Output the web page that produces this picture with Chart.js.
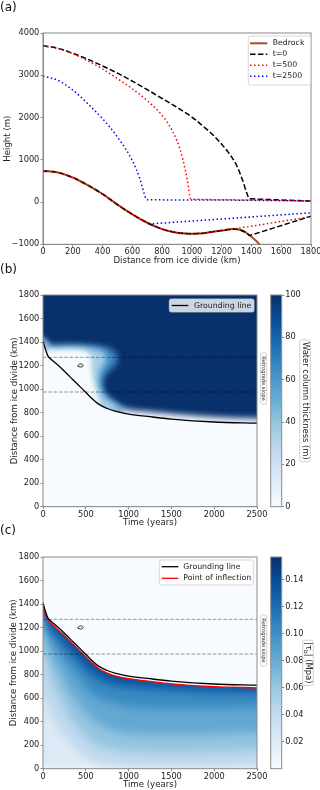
<!DOCTYPE html>
<html lang="en">
<head>
<meta charset="UTF-8">
<meta name="viewport" content="width=device-width, initial-scale=1.0">
<title>Ice sheet retreat over a retrograde bed</title>
<script src="https://cdn.jsdelivr.net/npm/chart.js"></script>
<style>
    body { margin: 0; background: #fff; font-family: "DejaVu Sans", sans-serif; }
    .fig { position: relative; width: 320px; height: 790px; overflow: hidden; }
    .fig canvas { position: absolute; left: 0; }
    .tag { position: absolute; left: 0; font-size: 12px; line-height: 14px; color: #111; }
</style>
</head>
<body>
<div class="fig">
    <canvas id="profiles" width="320" height="268" style="top:0"></canvas>
    <canvas id="water" width="320" height="268" style="top:262px"></canvas>
    <canvas id="waterBar" width="58" height="268" style="top:262px;left:262px"></canvas>
    <canvas id="stress" width="320" height="268" style="top:522px"></canvas>
    <canvas id="stressBar" width="58" height="268" style="top:522px;left:262px"></canvas>
    <div class="tag" style="top:0">(a)</div>
    <div class="tag" style="top:262px">(b)</div>
    <div class="tag" style="top:523px">(c)</div>
</div>

<script>
// ---- (a) profiles along the flow line: distance (km) -> height (m) ----
const bedX = [0,100,200,300,400,500,600,700,800,850,900,950,1000,1050,1100,1200,1280,1320,1360,1400,1440,1480];
const bedH = [735,700,580,400,190,-60,-290,-490,-640,-690,-725,-743,-748,-745,-725,-675,-636,-655,-715,-820,-950,-1080];

const surf0X = [0,100,200,300,400,500,600,700,800,900,1000,1100,1150,1200,1250,1300,1340,1370,1385,1400,1600,1800];
const surf0H = [3700,3640,3520,3380,3220,3050,2860,2660,2450,2240,2010,1720,1560,1370,1150,870,520,200,85,75,50,25];
const base0X = [0,100,200,300,400,500,600,700,800,850,900,950,1000,1050,1100,1200,1280,1320,1360,1390,1400,1800];
const base0H = [735,700,580,400,190,-60,-290,-490,-640,-690,-725,-743,-748,-745,-725,-675,-636,-655,-715,-790,-779,-335];

const surf500X = [0,100,200,300,400,500,600,700,800,850,900,940,970,990,1000,1400,1800];
const surf500H = [3690,3630,3510,3340,3150,2920,2680,2400,2050,1800,1450,1000,500,90,70,50,25];
const base500X = [0,100,200,300,400,500,600,700,800,850,900,950,1000,1050,1100,1200,1280,1800];
const base500H = [735,700,580,400,190,-60,-290,-490,-640,-690,-725,-743,-748,-745,-725,-675,-636,-345];

const surf2500X = [0,100,200,300,400,500,600,650,690,700,1000,1800];
const surf2500H = [2980,2880,2650,2330,1970,1540,980,560,90,55,50,25];
const base2500X = [710,1800];
const base2500H = [-520,-255];

// ---- (b)/(c) time (years) -> distance from ice divide (km) ----
const glT = [0,10,25,60,100,160,250,350,450,550,650,750,850,1000,1250,1500,2000,2500];
const glD = [1415,1385,1345,1278,1250,1213,1152,1080,1008,935,872,835,810,788,765,745,720,710];
const inflD = [1398,1365,1322,1262,1232,1193,1132,1060,988,915,852,813,788,766,742,722,697,688];

const slopeEdges = [975, 1270];
const timeSpan = [0, 2500];

// small closed contour near t=430
const blipT = [405,422,450,468,462,435,408,405];
const blipD = [1197,1210,1213,1204,1192,1188,1194,1197];

// water column: top of the thin layer just behind the grounding line
const sheetT = [0,100,250,450,600,700,800,900,1000,1250,1500,2000,2500];
const sheetD = [1415,1250,1152,1008,920,880,860,845,825,808,790,762,750];
// drained pocket, outer / middle / inner contours (run from bottom-left round to the right)
const pocketOuterT = [-50,-50,4,43,120,237,432,627,763,850,870,840,780,720,700,705,745,810,880,1000];
const pocketOuterD = [1000,1440,1428,1395,1378,1378,1378,1368,1350,1310,1250,1200,1160,1110,1060,1000,950,905,875,650];
const pocketMidT = [-50,-50,4,43,120,237,432,627,700,735,740,710,670,655,660,700,770,850,1000];
const pocketMidD = [1000,1430,1417,1380,1352,1358,1358,1340,1318,1285,1247,1200,1150,1090,1020,960,905,865,650];
const pocketCoreT = [0,30,60,150,300,450,530,560,565,580,600,620,700];
const pocketCoreD = [1000,1300,1330,1335,1337,1330,1310,1260,1180,1100,1040,990,750];

// basal shear stress contours (km)
const bandT = [0,100,200,300,400,500,600,800,1000,1500,2000,2500];
const tau02 = [0,0,0,0,0,0,0,0,0,0,0,0];
const tau04 = [600,450,330,240,160,100,60,30,20,15,15,25];
const tau06 = [1000,760,610,460,360,280,220,170,150,140,145,160];
const tau08 = [1180,950,820,670,570,480,410,330,300,290,295,310];
const tau10 = [1300,1090,980,870,780,690,620,560,530,510,510,520];
const tau12 = [1360,1170,1090,990,920,840,775,715,690,665,650,645];
const tau14 = [1385,1210,1140,1050,975,895,830,755,730,705,688,680];

const BLUES = ['#f7fbff','#deebf7','#c6dbef','#9ecae1','#6baed6','#4292c6','#2171b5','#08519c','#08306b'];
const TAU_COLORS = ['#dceaf6','#bfd8ed','#93c4df','#63a8d3','#3a8ac2','#1c68ae','#08519c'];
const PALE = '#f7fbff';
const NAVY = '#08306b';
const FRAME = '#8a8a8a';
const INK = '#222';

Chart.defaults.font.family = '"DejaVu Sans", sans-serif';
Chart.defaults.font.size = 8.2;
Chart.defaults.color = INK;

function pts(xs, ys) { return xs.map((x, i) => ({x: x, y: ys[i]})); }
// repeat the end values just past the axes so the soft edge stays out of view
function padEnds(xs, ys) {
    const p = pts(xs, ys);
    return [{x: xs[0] - 200, y: ys[0]}].concat(p, [{x: xs[xs.length - 1] + 200, y: ys[ys.length - 1]}]);
}
function hline(y) { return timeSpan.map(t => ({x: t, y: y})); }
function fmtTick(v) { return v < 0 ? '\u2212' + Math.abs(v) : String(v); }

function roundRect(ctx, x, y, w, h, r) {
    ctx.beginPath();
    ctx.moveTo(x + r, y);
    ctx.lineTo(x + w - r, y); ctx.quadraticCurveTo(x + w, y, x + w, y + r);
    ctx.lineTo(x + w, y + h - r); ctx.quadraticCurveTo(x + w, y + h, x + w - r, y + h);
    ctx.lineTo(x + r, y + h); ctx.quadraticCurveTo(x, y + h, x, y + h - r);
    ctx.lineTo(x, y + r); ctx.quadraticCurveTo(x, y, x + r, y);
    ctx.closePath();
}

function xAxis(min, max, step, title, height, gap) {
    return {
        type: 'linear', min: min, max: max,
        ticks: { stepSize: step, padding: 0.5, maxRotation: 0, autoSkip: false, color: INK, callback: fmtTick },
        grid: { drawOnChartArea: false, tickLength: 2.5, color: FRAME },
        border: { color: FRAME },
        title: { display: true, text: title, color: INK, font: { size: 8.6 }, padding: { top: 0, bottom: gap } },
        afterFit(s) { s.height = height; s.paddingLeft = 0; s.paddingRight = 0; }
    };
}
function yAxis(min, max, step, title, gap) {
    return {
        type: 'linear', min: min, max: max,
        ticks: { stepSize: step, padding: 1.2, color: INK, callback: fmtTick },
        grid: { drawOnChartArea: false, tickLength: 2.5, color: FRAME },
        border: { color: FRAME },
        title: { display: true, text: title, color: INK, font: { size: 8.6 }, padding: { top: gap, bottom: 0 } },
        afterFit(s) { s.width = 43; s.paddingTop = 0; s.paddingBottom = 0; }
    };
}

const frame = {
    id: 'frame',
    afterDraw(chart) {
        const {ctx, chartArea: a} = chart;
        ctx.save();
        ctx.strokeStyle = FRAME; ctx.lineWidth = 1;
        ctx.strokeRect(a.left, a.top, a.right - a.left, a.bottom - a.top);
        ctx.restore();
    }
};

function boxLegend(o) {
    return {
        id: 'boxLegend',
        afterDraw(chart) {
            const {ctx, chartArea: a} = chart;
            const items = chart.data.datasets.filter(d => d.inLegend);
            const x0 = a.right - o.right - o.w, y0 = a.top + o.top;
            ctx.save();
            roundRect(ctx, x0, y0, o.w, o.h, 2);
            ctx.fillStyle = 'rgba(255,255,255,0.8)'; ctx.fill();
            ctx.strokeStyle = '#cfcfcf'; ctx.lineWidth = 0.8; ctx.stroke();
            ctx.font = '7.8px "DejaVu Sans"'; ctx.textBaseline = 'middle'; ctx.textAlign = 'left';
            items.forEach((d, i) => {
                const y = y0 + o.first + i * o.step;
                ctx.beginPath();
                ctx.setLineDash(d.borderDash || []);
                ctx.strokeStyle = d.borderColor; ctx.lineWidth = d.borderWidth;
                ctx.moveTo(x0 + o.lx0, y); ctx.lineTo(x0 + o.lx1, y); ctx.stroke();
                ctx.setLineDash([]);
                ctx.fillStyle = INK;
                ctx.fillText(d.label, x0 + o.tx, y);
            });
            ctx.restore();
        }
    };
}

function drawVertical(ctx, cx, cy, parts, size, h, pad) {
    ctx.save();
    ctx.translate(cx, cy);
    ctx.rotate(Math.PI / 2);
    const font = s => s.toFixed(2) + 'px "DejaVu Sans"';
    let total = 0;
    const widths = parts.map(p => { ctx.font = font(p.sub ? size * 0.7 : size); const w = ctx.measureText(p.t).width; total += w; return w; });
    roundRect(ctx, -total / 2 - pad, -h / 2, total + 2 * pad, h, 2);
    ctx.fillStyle = '#fff'; ctx.fill();
    ctx.strokeStyle = '#c4c4c4'; ctx.lineWidth = 0.8; ctx.stroke();
    ctx.fillStyle = INK; ctx.textBaseline = 'middle'; ctx.textAlign = 'left';
    let x = -total / 2;
    parts.forEach((p, i) => {
        ctx.font = font(p.sub ? size * 0.7 : size);
        ctx.fillText(p.t, x, p.sub ? size * 0.28 : 0);
        x += widths[i];
    });
    ctx.restore();
}

function sideLabels(items) {
    return {
        id: 'sideLabels',
        afterDraw(chart) {
            const a = chart.chartArea;
            items.forEach(it => {
                const cy = it.value !== undefined ? chart.scales.y.getPixelForValue(it.value) : (a.top + a.bottom) / 2;
                drawVertical(chart.ctx, a.right + it.dx, cy, it.parts, it.size, it.h, it.pad);
            });
        }
    };
}

// plot background plus a blur on the contour fills so their edges grade like the field
function setBlur(chart, idx) {
    const ds = idx === undefined ? null : chart.data.datasets[idx];
    chart.ctx.filter = ds && ds.blur ? 'blur(' + ds.blur + 'px)' : 'none';
}
function softFill(bg) {
    return {
        id: 'softFill',
        beforeDatasetsDraw(chart) {
            const {ctx, chartArea: a} = chart;
            ctx.save();
            ctx.fillStyle = bg;
            ctx.fillRect(a.left, a.top, a.right - a.left, a.bottom - a.top);
            ctx.restore();
            chart.$drawSeq = chart.getSortedVisibleDatasetMetas().map(m => m.index).reverse();
            setBlur(chart, chart.$drawSeq[0]);
        },
        afterDatasetDraw(chart, args) {
            const seq = chart.$drawSeq;
            setBlur(chart, seq[seq.indexOf(args.index) + 1]);
        },
        afterDatasetsDraw(chart) { chart.ctx.filter = 'none'; }
    };
}

const common = {
    responsive: false, animation: false, devicePixelRatio: 1, events: [],
    elements: { point: { radius: 0 } },
    plugins: { legend: { display: false }, tooltip: { enabled: false } }
};
const CLEAR = 'rgba(0,0,0,0)';

// ---------- (a) ----------
new Chart(document.getElementById('profiles'), {
    type: 'line',
    data: { datasets: [
        { label: 'Bedrock', inLegend: true, data: pts(bedX, bedH), borderColor: '#a0522d', borderWidth: 2, cubicInterpolationMode: 'monotone', order: 4 },
        { label: 't=0', inLegend: true, data: pts(surf0X, surf0H), borderColor: '#000000', borderWidth: 1.5, borderDash: [5.5, 2.4], cubicInterpolationMode: 'monotone', order: 3 },
        { label: 't=500', inLegend: true, data: pts(surf500X, surf500H), borderColor: '#ff0000', borderWidth: 1.5, borderDash: [1.5, 2.5], cubicInterpolationMode: 'monotone', order: 2 },
        { label: 't=2500', inLegend: true, data: pts(surf2500X, surf2500H), borderColor: '#0000ff', borderWidth: 1.5, borderDash: [1.5, 2.5], cubicInterpolationMode: 'monotone', order: 1 },
        { label: 'base t=0', data: pts(base0X, base0H), borderColor: '#000000', borderWidth: 1.5, borderDash: [5.5, 2.4], cubicInterpolationMode: 'monotone', order: 3 },
        { label: 'base t=500', data: pts(base500X, base500H), borderColor: '#ff0000', borderWidth: 1.5, borderDash: [1.5, 2.5], cubicInterpolationMode: 'monotone', order: 2 },
        { label: 'base t=2500', data: pts(base2500X, base2500H), borderColor: '#0000ff', borderWidth: 1.5, borderDash: [1.5, 2.5], order: 1 }
    ]},
    options: Object.assign({}, common, {
        layout: { padding: { left: 0, right: 9, top: 33, bottom: 0 } },
        scales: {
            x: xAxis(0, 1800, 200, 'Distance from ice divide (km)', 23.7, 1.7),
            y: yAxis(-1000, 4000, 1000, 'Height (m)', 2.3)
        }
    }),
    plugins: [frame, boxLegend({ w: 62.4, h: 49, right: 0.3, top: 3, first: 7.3, step: 11, lx0: 1.7, lx1: 19, tx: 24.4 })]
});

// ---------- (b) ----------
new Chart(document.getElementById('water'), {
    type: 'line',
    data: { datasets: [
        { label: 'Grounding line', inLegend: true, data: pts(glT, glD), borderColor: '#000000', borderWidth: 1.3, fill: 'start', backgroundColor: PALE, cubicInterpolationMode: 'monotone', order: 2 },
        { data: pts(blipT, blipD), borderColor: '#000000', borderWidth: 0.8, tension: 0.5, order: 0 },
        { data: hline(slopeEdges[0]), borderColor: 'rgba(0,0,0,0.4)', borderWidth: 1, borderDash: [3.7, 1.6], order: 1 },
        { data: hline(slopeEdges[1]), borderColor: 'rgba(0,0,0,0.4)', borderWidth: 1, borderDash: [3.7, 1.6], order: 1 },
        { data: pts(pocketCoreT, pocketCoreD), fill: 'shape', backgroundColor: PALE, borderColor: CLEAR, borderWidth: 0, tension: 0.3, blur: 2.5, order: 7 },
        { data: pts(pocketMidT, pocketMidD), fill: 'shape', backgroundColor: '#a8cfe5', borderColor: CLEAR, borderWidth: 0, tension: 0.3, blur: 3, order: 8 },
        { data: pts(pocketOuterT, pocketOuterD), fill: 'shape', backgroundColor: '#3f8ac4', borderColor: CLEAR, borderWidth: 0, tension: 0.3, blur: 3, order: 9 },
        { data: padEnds(sheetT, sheetD), fill: 'start', backgroundColor: PALE, borderColor: CLEAR, borderWidth: 0, cubicInterpolationMode: 'monotone', blur: 3, order: 10 }
    ]},
    options: Object.assign({}, common, {
        layout: { padding: { left: 0, right: 63, top: 33, bottom: 0 } },
        scales: {
            x: xAxis(0, 2500, 500, 'Time (years)', 23.3, 1.9),
            y: yAxis(0, 1800, 200, 'Distance from ice divide (km)', 9.2)
        }
    }),
    plugins: [softFill(NAVY), frame,
        boxLegend({ w: 84.7, h: 13, right: 3, top: 4, first: 6.5, step: 11, lx0: 2.4, lx1: 19, tx: 24.7 }),
        sideLabels([{ dx: 6.7, value: 1090, parts: [{t: 'Retrograde slope'}], size: 5.2, h: 6, pad: 3.5 }])]
});

// ---------- (c) ----------
const tauSets = [tau02, tau04, tau06, tau08, tau10, tau12, tau14].map((lv, i) => ({
    data: padEnds(bandT, lv), fill: 'end', backgroundColor: TAU_COLORS[i],
    borderColor: CLEAR, borderWidth: 0, cubicInterpolationMode: 'monotone', blur: 4, order: 20 - i
}));
new Chart(document.getElementById('stress'), {
    type: 'line',
    data: { datasets: [
        { label: 'Grounding line', inLegend: true, data: pts(glT, glD), borderColor: '#000000', borderWidth: 1.3, cubicInterpolationMode: 'monotone', order: 1 },
        { label: 'Point of inflection', inLegend: true, data: pts(glT, inflD), borderColor: '#ff0000', borderWidth: 1.3, fill: 'end', backgroundColor: PALE, cubicInterpolationMode: 'monotone', order: 3 },
        { data: pts(blipT, blipD), borderColor: '#000000', borderWidth: 0.8, tension: 0.5, order: 0 },
        { data: hline(slopeEdges[0]), borderColor: 'rgba(0,0,0,0.4)', borderWidth: 1, borderDash: [3.7, 1.6], order: 2 },
        { data: hline(slopeEdges[1]), borderColor: 'rgba(0,0,0,0.4)', borderWidth: 1, borderDash: [3.7, 1.6], order: 2 }
    ].concat(tauSets)},
    options: Object.assign({}, common, {
        layout: { padding: { left: 0, right: 63, top: 35, bottom: 0 } },
        scales: {
            x: xAxis(0, 2500, 500, 'Time (years)', 21.3, 0),
            y: yAxis(0, 1800, 200, 'Distance from ice divide (km)', 9)
        }
    }),
    plugins: [softFill(PALE), frame,
        boxLegend({ w: 94, h: 25, right: 3.7, top: 3, first: 6.7, step: 11.6, lx0: 2.4, lx1: 19, tx: 24 }),
        sideLabels([{ dx: 6.7, value: 1090, parts: [{t: 'Retrograde slope'}], size: 5.2, h: 6, pad: 3.5 }])]
});

// ---------- colour bars ----------
function bluesGradient(chart) {
    const a = chart.chartArea;
    if (!a) return BLUES[4];
    const g = chart.ctx.createLinearGradient(0, a.bottom, 0, a.top);
    BLUES.forEach((c, i) => g.addColorStop(i / (BLUES.length - 1), c));
    return g;
}
function colorbar(id, top, bottom, max, step, keep, fmt, label) {
    new Chart(document.getElementById(id), {
        type: 'bar',
        data: { labels: [''], datasets: [{ data: [[0, max]], backgroundColor: c => bluesGradient(c.chart), barPercentage: 1, categoryPercentage: 1, borderWidth: 0 }] },
        options: Object.assign({}, common, {
            layout: { padding: { left: 8.7, right: 0, top: top, bottom: bottom } },
            scales: {
                x: { display: false },
                y: {
                    position: 'right', min: 0, max: max,
                    ticks: { stepSize: step, padding: 1, color: INK, callback: fmt },
                    grid: { drawOnChartArea: false, tickLength: 2.5, color: FRAME },
                    border: { display: false },
                    afterBuildTicks(s) { s.ticks = s.ticks.filter(t => keep(t.value)); },
                    afterFit(s) { s.width = 38.3; s.paddingTop = 0; s.paddingBottom = 0; }
                }
            }
        }),
        plugins: [frame, sideLabels([label])]
    });
}
colorbar('waterBar', 33, 23.3, 100, 20, v => true, v => String(v),
    { dx: 23.3, parts: [{t: 'Water column thickness (m)'}], size: 8.4, h: 10.5, pad: 2 });
colorbar('stressBar', 35, 21.3, 0.157, 0.02, v => v > 0.01 && v < 0.15, v => v.toFixed(2),
    { dx: 26.3, parts: [{t: '|\u03c4'}, {t: 'b', sub: true}, {t: '| (Mpa)'}], size: 8.4, h: 10.5, pad: 2 });
</script>
</body>
</html>
